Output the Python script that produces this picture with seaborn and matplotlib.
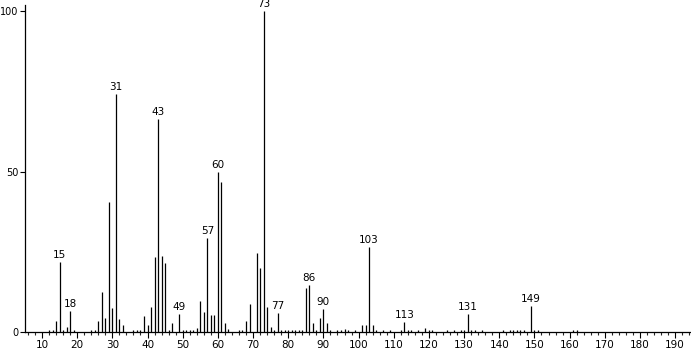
import matplotlib
matplotlib.use("Agg")
import matplotlib.pyplot as plt
import seaborn as sns
import numpy as np
from matplotlib.ticker import MultipleLocator

mz = [12, 13, 14, 15, 16, 17, 18, 19, 24, 25, 26, 27, 28, 29, 30, 31, 32, 33,
      36, 37, 38, 39, 40, 41, 42, 43, 44, 45, 46, 47, 49, 50, 51, 52, 53, 54,
      55, 56, 57, 58, 59, 60, 61, 62, 63, 66, 67, 68, 69, 71, 72, 73, 74, 75,
      76, 77, 78, 79, 80, 81, 82, 83, 84, 85, 86, 87, 88, 89, 90, 91, 92, 94,
      95, 96, 97, 99, 101, 102, 103, 104, 105, 107, 109, 112, 113, 114, 115,
      117, 119, 120, 121, 125, 127, 129, 130, 131, 132, 133, 135, 141, 143,
      144, 145, 146, 147, 149, 150, 151, 161, 162]
intensity = [0.6, 0.6, 3.4, 21.8, 0.6, 1.5, 6.5, 0.7, 0.5, 0.6, 3.4, 12.5, 4.4,
             40.5, 7.5, 74.2, 4.0, 2.2, 0.6, 0.6, 0.6, 5.0, 2.2, 7.8, 23.4, 66.3,
             23.7, 21.5, 0.6, 2.8, 5.6, 0.6, 0.6, 0.6, 0.6, 1.2, 9.7, 6.2, 29.3,
             5.3, 5.3, 49.8, 46.7, 2.8, 0.8, 0.6, 0.6, 3.4, 8.7, 24.6, 20.0,
             100.0, 7.8, 1.6, 0.6, 5.9, 0.5, 0.5, 0.6, 0.5, 0.5, 0.6, 0.6, 13.7,
             14.6, 2.8, 0.6, 4.4, 7.2, 2.8, 0.6, 0.5, 0.5, 0.8, 0.5, 0.5, 2.2,
             2.2, 26.6, 2.2, 0.6, 0.5, 0.5, 0.5, 3.0, 0.6, 0.6, 0.5, 1.2, 0.6,
             0.5, 0.5, 0.5, 0.5, 0.6, 5.6, 0.6, 0.5, 0.5, 0.5, 0.6, 0.6, 0.6,
             0.6, 0.5, 8.1, 0.6, 0.5, 0.6, 0.6]
labeled = [15, 18, 31, 43, 49, 57, 60, 73, 77, 86, 90, 103, 113, 131, 149]
x_ticks = list(range(10, 200, 10))
y_ticks = [0, 50, 100]

sns.set_style("white")
plt.rcParams["font.family"] = ["DejaVu Sans"]

fig = plt.figure(figsize=(6.91, 3.51), dpi=100)
ax = fig.add_axes([25 / 691, 19 / 351, 1 - 25 / 691, (332 - 5) / 351])

ax.vlines(mz, 0, intensity, color="black", linewidth=0.9)
lookup = dict(zip(mz, intensity))
for m in labeled:
    ax.annotate(str(m), (m, lookup[m]), xytext=(0, 1.5), textcoords="offset points",
                ha="center", va="bottom", fontsize=7.5, color="black")

ax.set_xlim(5.17, 194.5)
ax.set_ylim(0, 101.9)
ax.set_xticks(x_ticks)
ax.xaxis.set_minor_locator(MultipleLocator(2))
ax.set_yticks(y_ticks)
ax.tick_params(axis="x", which="major", direction="out", length=4, width=0.8,
               labelsize=7.5, colors="black", pad=2, bottom=True)
ax.tick_params(axis="y", which="major", direction="out", length=3.5, width=0.8,
               labelsize=7, colors="black", pad=1, left=True)
ax.tick_params(axis="x", which="minor", direction="out", length=2.5, width=0.8,
               bottom=True)
for s in ["top", "right"]:
    ax.spines[s].set_visible(False)
for s in ["left", "bottom"]:
    ax.spines[s].set_color("black")
    ax.spines[s].set_linewidth(0.9)
ax.set_xlabel("")
ax.set_ylabel("")

fig.savefig("out.png", dpi=100)
